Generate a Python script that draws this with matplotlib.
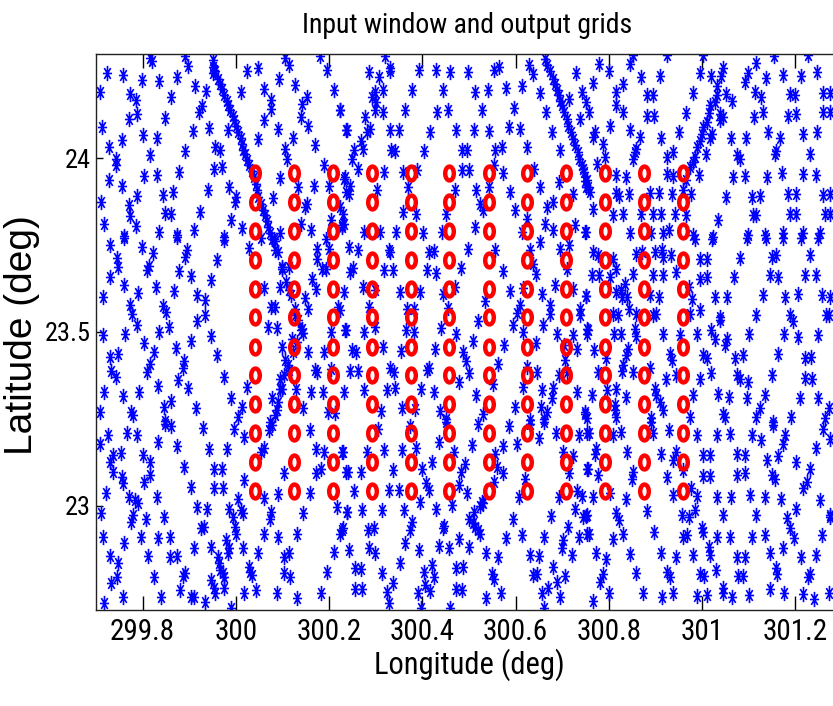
import numpy as np
import matplotlib
matplotlib.use("Agg")
import matplotlib.pyplot as plt
from matplotlib.path import Path

# ---- output grid nodes (deg) ----
grid_lon = [300.042, 300.125, 300.208, 300.292, 300.375, 300.458,
            300.542, 300.625, 300.708, 300.792, 300.875, 300.958]
grid_lat = [23.042, 23.125, 23.208, 23.292, 23.375, 23.458,
            23.542, 23.625, 23.708, 23.792, 23.875, 23.958]

# ---- input observations inside the window (lon, lat in deg) ----
obs_nw = [
    (299.723,24.245),(299.758,24.241),(299.799,24.226),(299.836,24.222),(299.874,24.233),(299.815,24.289),
    (299.820,24.279),(299.890,24.294),(299.898,24.265),(299.951,24.283),(299.954,24.253),(299.950,24.245),
    (299.708,24.190),(299.773,24.185),(299.785,24.168),(299.860,24.176),(299.913,24.209),(299.936,24.193),
    (300.010,24.190),(300.024,24.251),(300.047,24.260),(300.105,24.289),(300.115,24.267),(300.181,24.293),
    (300.195,24.254),(300.092,24.229),(300.127,24.212),(300.061,24.200),(300.075,24.168),(300.075,24.142),
    (300.153,24.176),(300.141,24.157),(300.210,24.197),(299.770,24.114),(299.788,24.128),(299.847,24.117),
    (299.922,24.133),(299.927,24.149),(300.061,24.111),(300.139,24.118),(300.155,24.092),(300.224,24.140),
    (299.713,24.090),(299.755,24.053),(299.801,24.066),(299.831,24.059),(299.908,24.077),(299.943,24.088),
    (299.983,24.080),(300.048,24.056),(300.090,24.085),(300.123,24.059),(300.236,24.080),(299.727,24.032),
    (299.816,24.008),(299.891,24.021),(299.955,24.032),(299.967,24.023),(300.105,24.027),(300.110,23.999),
    (300.170,24.037),(299.743,23.999),(299.743,23.980),(299.804,23.948),(299.831,23.951),(299.878,23.960),
    (299.953,23.968),(299.970,23.975),(300.095,23.944),(300.133,23.917),(300.188,23.980),(300.233,23.941),
    (299.727,23.938),(299.755,23.919),(299.844,23.893),(299.865,23.903),(299.788,23.890),(299.940,23.908),
    (299.985,23.917),(300.000,23.889),(299.999,23.874),(300.079,23.887),(300.153,23.869),(300.148,23.860),
    (300.168,23.919),(300.200,23.919),(300.236,23.903),(299.711,23.874),(299.770,23.865),(299.773,23.833),
    (299.848,23.843),(299.860,23.839),(299.923,23.845),(299.990,23.821),(300.140,23.812),(300.161,23.793),
    (300.204,23.821),(300.228,23.802),(299.717,23.810),(299.786,23.804),(299.761,23.776),(299.835,23.788),
    (299.874,23.780),(299.910,23.793),(299.974,23.772),(300.013,23.798),(300.095,23.785),(300.233,23.812),
]
track_nw = [
    (299.950,24.262),(299.955,24.251),(299.961,24.229),(299.967,24.214),(299.970,24.200),(299.975,24.181),
    (299.981,24.166),(299.984,24.152),(299.988,24.138),(299.993,24.123),(299.997,24.109),(300.000,24.094),
    (300.004,24.075),(300.010,24.059),(300.013,24.042),(300.016,24.025),(300.020,24.011),(300.025,23.994),
    (300.029,23.980),(300.034,23.963),(300.038,23.946),(300.043,23.927),(300.045,23.908),(300.048,23.889),
    (300.053,23.869),(300.058,23.852),(300.063,23.836),(300.067,23.820),(300.070,23.802),(300.074,23.785),
    (300.077,23.769),
]
obs_n = [
    (300.320,24.293),(300.331,24.260),(300.330,24.251),(300.285,24.248),(300.306,24.233),(300.392,24.253),
    (300.429,24.253),(300.460,24.248),(300.498,24.248),(300.554,24.254),(300.565,24.262),(300.628,24.267),
    (300.637,24.243),(300.729,24.245),(300.298,24.190),(300.315,24.197),(300.292,24.176),(300.301,24.162),
    (300.299,24.138),(300.315,24.133),(300.378,24.195),(300.444,24.195),(300.513,24.190),(300.540,24.195),
    (300.580,24.203),(300.613,24.209),(300.653,24.187),(300.715,24.171),(300.742,24.190),(300.224,24.138),
    (300.278,24.118),(300.288,24.085),(300.281,24.075),(300.238,24.080),(300.362,24.138),(300.431,24.133),
    (300.456,24.140),(300.528,24.138),(300.597,24.145),(300.665,24.133),(300.738,24.114),(300.253,24.025),
    (300.273,24.027),(300.330,24.080),(300.349,24.080),(300.417,24.075),(300.473,24.080),(300.510,24.080),
    (300.542,24.078),(300.585,24.090),(300.610,24.085),(300.624,24.032),(300.678,24.075),(300.695,24.023),
    (300.249,23.999),(300.261,23.970),(300.317,23.960),(300.333,24.025),(300.342,24.021),(300.403,24.021),
    (300.485,24.025),(300.495,24.025),(300.556,24.023),(300.570,24.032),(300.554,23.980),(300.573,23.958),
    (300.640,23.970),(300.235,23.946),(300.245,23.919),(300.242,23.898),(300.224,23.860),(300.230,23.841),
    (300.303,23.908),(300.370,23.917),(300.388,23.967),(300.358,23.960),(300.470,23.910),(300.485,23.967),
    (300.501,23.967),(300.515,23.908),(300.542,23.917),(300.524,23.869),(300.530,23.850),(300.587,23.903),
    (300.599,23.850),(300.653,23.917),(300.681,23.874),(300.667,23.860),(300.694,23.932),(300.724,23.898),
    (300.228,23.807),(300.275,23.788),(300.310,23.788),(300.344,23.788),(300.358,23.845),(300.387,23.841),
    (300.401,23.785),(300.442,23.788),(300.451,23.841),(300.513,23.802),(300.613,23.788),(300.625,23.826),
    (300.663,23.812),(300.681,23.793),(300.728,23.807),(300.749,23.788),(300.268,24.051),
]
track_n = [
    (300.663,24.286),(300.668,24.267),(300.674,24.251),(300.680,24.229),(300.685,24.214),(300.688,24.197),
    (300.692,24.181),(300.695,24.166),(300.699,24.152),(300.704,24.133),(300.710,24.114),(300.713,24.094),
    (300.718,24.075),(300.723,24.056),(300.728,24.037),(300.733,24.018),(300.737,23.999),(300.742,23.980),
    (300.747,23.960),(300.753,23.936),(300.756,23.917),
]
obs_ne = [
    (300.779,24.272),(300.801,24.251),(300.845,24.270),(300.852,24.296),(300.868,24.235),(300.909,24.238),
    (300.925,24.296),(301.002,24.296),(300.995,24.245),(301.020,24.238),(301.041,24.238),(301.045,24.260),
    (301.091,24.219),(301.099,24.245),(301.115,24.274),(301.138,24.231),(301.154,24.293),(301.174,24.241),
    (301.213,24.238),(301.227,24.296),(301.246,24.248),(300.765,24.216),(300.831,24.214),(300.816,24.190),
    (300.882,24.181),(300.895,24.181),(300.981,24.187),(301.031,24.207),(301.031,24.181),(301.051,24.185),
    (301.065,24.166),(301.113,24.190),(301.127,24.176),(301.189,24.185),(301.199,24.181),(301.259,24.187),
    (301.275,24.187),(300.751,24.162),(300.758,24.133),(300.815,24.152),(300.831,24.133),(300.881,24.123),
    (300.896,24.123),(300.966,24.130),(301.015,24.130),(301.016,24.152),(301.038,24.128),(301.045,24.118),
    (301.038,24.109),(301.111,24.118),(301.131,24.133),(301.184,24.123),(301.202,24.128),(301.259,24.133),
    (301.275,24.133),(300.770,24.075),(300.766,24.061),(300.802,24.094),(300.845,24.080),(300.866,24.061),
    (300.911,24.059),(300.951,24.075),(301.002,24.090),(300.999,24.071),(301.016,24.059),(301.022,24.071),
    (301.063,24.059),(301.095,24.059),(301.141,24.075),(301.168,24.059),(301.216,24.071),(301.246,24.075),
    (300.788,24.040),(300.791,24.005),(300.856,24.018),(300.859,24.027),(300.851,23.999),(300.924,24.003),
    (300.938,24.018),(300.988,24.032),(300.984,24.005),(301.008,24.011),(301.075,24.008),(301.081,23.999),
    (301.156,24.013),(301.159,24.021),(301.231,24.013),(300.774,23.984),(300.745,23.970),(300.816,23.951),
    (300.836,23.946),(300.924,23.956),(300.938,23.948),(300.974,23.975),(300.994,23.951),(301.066,23.946),
    (301.091,23.948),(301.139,23.946),(301.172,23.958),(301.216,23.956),(301.245,23.951),(300.749,23.935),
    (300.752,23.917),(300.759,23.903),(300.815,23.900),(300.822,23.890),(300.844,23.896),(300.888,23.900),
    (300.908,23.900),(300.936,23.896),(300.977,23.896),(301.052,23.889),(301.106,23.889),(301.124,23.890),
    (301.184,23.898),(301.202,23.898),(301.259,23.893),(301.275,23.896),(300.766,23.855),(300.809,23.836),
    (300.831,23.841),(300.870,23.841),(300.895,23.841),(300.911,23.841),(300.941,23.841),(300.966,23.836),
    (301.034,23.823),(301.109,23.836),(301.116,23.836),(301.188,23.841),(301.202,23.841),(301.263,23.841),
    (301.275,23.841),(300.752,23.788),(300.845,23.785),(300.891,23.785),(300.916,23.785),(300.929,23.793),
    (300.981,23.778),(301.024,23.774),(301.099,23.778),(301.134,23.778),(301.174,23.785),(301.216,23.785),
    (301.252,23.785),(301.027,24.162),(301.011,24.104),(300.995,24.051),(300.981,23.989),(300.966,23.936),
    (300.959,23.908),
]
obs_w = [
    (299.731,23.749),(299.761,23.770),(299.799,23.744),(299.822,23.728),(299.874,23.773),(299.895,23.735),
    (299.890,23.716),(299.974,23.764),(300.029,23.742),(300.053,23.770),(300.083,23.761),(300.083,23.735),
    (300.175,23.740),(300.200,23.740),(300.193,23.768),(299.745,23.713),(299.747,23.687),(299.730,23.658),
    (299.810,23.677),(299.813,23.690),(299.879,23.675),(299.904,23.661),(299.960,23.706),(299.947,23.649),
    (300.098,23.682),(300.115,23.687),(300.163,23.653),(300.175,23.711),(300.184,23.682),(300.193,23.682),
    (299.715,23.601),(299.760,23.634),(299.791,23.613),(299.829,23.629),(299.867,23.617),(299.917,23.606),
    (299.933,23.591),(299.933,23.548),(299.917,23.531),(299.843,23.575),(299.850,23.558),(299.774,23.577),
    (299.778,23.553),(300.060,23.627),(300.095,23.630),(300.115,23.620),(300.148,23.598),(300.155,23.567),
    (300.172,23.625),(300.220,23.572),(299.788,23.519),(299.763,23.495),(299.715,23.491),(299.836,23.500),
    (299.856,23.515),(299.904,23.473),(299.947,23.489),(299.803,23.467),(299.824,23.443),(299.872,23.454),
    (300.068,23.515),(300.075,23.572),(300.084,23.572),(300.088,23.512),(300.127,23.548),(300.141,23.510),
    (300.143,23.498),(300.120,23.479),(300.204,23.500),(300.236,23.505),(299.731,23.428),(299.748,23.438),
    (299.815,23.409),(299.888,23.416),(299.886,23.395),(299.960,23.433),(299.974,23.371),(299.733,23.387),
    (299.743,23.371),(299.810,23.385),(299.833,23.345),(299.875,23.361),(299.898,23.339),(300.100,23.457),
    (300.105,23.419),(300.095,23.364),(300.115,23.390),(300.154,23.443),(300.170,23.390),(300.175,23.385),
    (300.190,23.441),(300.204,23.393),(299.718,23.328),(299.758,23.316),(299.793,23.328),(299.860,23.301),
    (299.845,23.285),(299.915,23.282),(299.990,23.311),(300.013,23.285),(300.004,23.256),(300.025,23.342),
    (299.775,23.270),(299.779,23.261),(299.708,23.270),(299.847,23.243),(300.077,23.309),(300.088,23.275),
    (300.100,23.337),(300.129,23.335),(300.145,23.280),(300.161,23.328),(300.186,23.328),(300.197,23.270),
    (300.213,23.268),
]
track_w = [
    (300.081,23.768),(300.090,23.730),(300.098,23.687),(300.108,23.644),(300.118,23.606),(300.127,23.567),
    (300.133,23.534),(300.140,23.505),(300.131,23.471),(300.122,23.443),(300.111,23.404),(300.104,23.376),
    (300.095,23.337),(300.090,23.299),(300.083,23.261),(300.077,23.232),
]
obs_c = [
    (300.242,23.744),(300.261,23.735),(300.328,23.735),(300.330,23.730),(300.415,23.730),(300.424,23.732),
    (300.497,23.740),(300.556,23.735),(300.630,23.735),(300.653,23.759),(300.695,23.740),(300.715,23.749),
    (300.251,23.684),(300.245,23.673),(300.317,23.677),(300.337,23.677),(300.411,23.677),(300.430,23.671),
    (300.483,23.684),(300.573,23.675),(300.638,23.697),(300.644,23.668),(300.710,23.682),(300.233,23.615),
    (300.273,23.630),(300.299,23.620),(300.353,23.615),(300.395,23.615),(300.444,23.610),(300.470,23.630),
    (300.535,23.588),(300.587,23.617),(300.615,23.627),(300.656,23.610),(300.685,23.634),(300.724,23.625),
    (300.751,23.604),(300.285,23.572),(300.299,23.515),(300.367,23.567),(300.383,23.567),(300.365,23.505),
    (300.383,23.500),(300.440,23.512),(300.456,23.569),(300.473,23.495),(300.520,23.531),(300.603,23.556),
    (300.610,23.577),(300.594,23.521),(300.615,23.500),(300.658,23.521),(300.673,23.577),(300.673,23.553),
    (300.688,23.495),(300.724,23.491),(300.738,23.567),(300.738,23.548),(300.754,23.510),(300.235,23.505),
    (300.274,23.500),(300.224,23.562),(300.249,23.448),(300.258,23.441),(300.315,23.457),(300.354,23.445),
    (300.428,23.450),(300.487,23.441),(300.494,23.416),(300.508,23.473),(300.575,23.464),(300.644,23.467),
    (300.625,23.400),(300.703,23.462),(300.731,23.452),(300.244,23.387),(300.261,23.387),(300.330,23.397),
    (300.340,23.385),(300.411,23.390),(300.415,23.395),(300.501,23.383),(300.478,23.357),(300.563,23.409),
    (300.645,23.385),(300.694,23.376),(300.710,23.385),(300.706,23.419),(300.231,23.328),(300.274,23.333),
    (300.325,23.333),(300.342,23.339),(300.397,23.337),(300.425,23.328),(300.515,23.320),(300.551,23.349),
    (300.615,23.342),(300.656,23.333),(300.680,23.339),(300.678,23.309),(300.731,23.328),(300.311,23.272),
    (300.356,23.282),(300.385,23.278),(300.438,23.272),(300.451,23.249),(300.531,23.263),(300.599,23.285),
    (300.630,23.246),(300.654,23.285),(300.668,23.270),(300.660,23.251),(300.749,23.270),(300.754,23.253),
]
obs_e = [
    (300.766,23.730),(300.777,23.721),(300.809,23.711),(300.815,23.682),(300.802,23.658),(300.779,23.665),
    (300.763,23.663),(300.751,23.604),(300.834,23.639),(300.851,23.668),(300.872,23.730),(300.858,23.725),
    (300.899,23.730),(300.915,23.735),(300.916,23.716),(300.934,23.721),(300.945,23.673),(300.895,23.663),
    (300.916,23.663),(300.984,23.768),(301.022,23.768),(301.096,23.770),(301.136,23.770),(301.174,23.770),
    (301.213,23.770),(301.249,23.770),(300.995,23.711),(301.011,23.711),(301.082,23.713),(301.149,23.716),
    (301.158,23.721),(301.232,23.721),(300.995,23.653),(301.011,23.658),(301.068,23.658),(301.145,23.665),
    (301.163,23.658),(301.220,23.665),(301.244,23.663),(300.816,23.615),(300.829,23.601),(300.827,23.620),
    (300.838,23.601),(300.888,23.606),(300.908,23.601),(300.972,23.630),(300.979,23.596),(301.027,23.601),
    (301.054,23.601),(301.131,23.606),(301.177,23.601),(301.206,23.610),(301.258,23.606),(301.275,23.601),
    (300.809,23.553),(300.820,23.550),(300.844,23.567),(300.859,23.553),(300.894,23.548),(300.901,23.553),
    (300.975,23.553),(300.995,23.562),(301.038,23.543),(301.039,23.534),(301.115,23.550),(301.188,23.548),
    (301.194,23.531),(301.265,23.548),(301.272,23.548),(300.756,23.505),(300.754,23.495),(300.811,23.495),
    (300.825,23.495),(300.856,23.510),(300.859,23.489),(300.916,23.493),(300.952,23.491),(300.989,23.495),
    (301.020,23.505),(301.027,23.481),(301.054,23.481),(301.049,23.462),(301.101,23.493),(301.175,23.493),
    (301.206,23.486),(301.249,23.491),(300.768,23.448),(300.794,23.425),(300.841,23.452),(300.836,23.433),
    (300.831,23.404),(300.932,23.438),(300.936,23.419),(301.002,23.433),(301.011,23.424),(301.070,23.424),
    (301.088,23.435),(301.163,23.438),(301.220,23.424),(301.234,23.428),(300.777,23.385),(300.829,23.387),
    (300.851,23.385),(300.888,23.395),(300.922,23.364),(300.945,23.376),(300.995,23.364),(301.018,23.383),
    (301.075,23.376),(301.081,23.366),(301.099,23.357),(301.149,23.376),(301.220,23.368),(301.236,23.366),
    (300.763,23.318),(300.796,23.333),(300.816,23.337),(300.836,23.313),(300.813,23.289),(300.899,23.337),
    (300.902,23.318),(300.909,23.299),(300.916,23.275),(300.981,23.318),(301.034,23.323),(301.058,23.313),
    (301.096,23.309),(301.134,23.318),(301.209,23.309),(301.249,23.309),(300.749,23.265),(300.813,23.275),
    (300.816,23.256),(300.891,23.253),(300.974,23.256),(301.045,23.265),(301.049,23.256),(301.116,23.256),
    (301.124,23.280),(301.152,23.242),(301.191,23.256),(301.272,23.282),(301.263,23.253),
]
obs_sw = [
    (299.725,23.203),(299.767,23.210),(299.788,23.203),(299.833,23.184),(299.874,23.171),(299.929,23.225),
    (299.847,23.236),(299.860,23.229),(299.995,23.222),(300.017,23.198),(300.055,23.155),(300.060,23.165),
    (300.072,23.217),(300.074,23.241),(300.158,23.219),(300.172,23.162),(300.190,23.155),(300.229,23.155),
    (299.708,23.179),(299.736,23.145),(299.753,23.152),(299.731,23.126),(299.736,23.098),(299.755,23.083),
    (299.758,23.064),(299.800,23.145),(299.815,23.126),(299.815,23.088),(299.804,23.069),(299.888,23.112),
    (299.943,23.162),(299.981,23.162),(299.954,23.107),(299.970,23.107),(300.018,23.074),(300.103,23.095),
    (300.172,23.095),(300.183,23.107),(300.236,23.098),(299.722,23.037),(299.770,23.024),(299.784,23.016),
    (299.790,23.008),(299.831,23.026),(299.903,23.053),(299.953,23.050),(299.972,23.050),(300.004,23.018),
    (300.061,23.021),(300.090,23.035),(300.158,23.037),(300.217,22.995),(300.238,22.983),(299.710,22.978),
    (299.779,22.973),(299.775,22.954),(299.808,22.961),(299.845,22.968),(299.917,22.995),(299.938,22.992),
    (299.986,22.992),(299.993,22.968),(300.011,22.987),(300.015,22.980),(300.075,22.983),(300.074,22.963),
    (300.145,22.978),(300.229,22.935),(300.224,22.920),(299.715,22.911),(299.760,22.892),(299.797,22.911),
    (299.833,22.906),(299.858,22.911),(299.925,22.935),(299.931,22.940),(299.979,22.901),(299.998,22.940),
    (300.000,22.920),(300.060,22.920),(300.090,22.909),(300.131,22.920),(299.731,22.855),(299.747,22.834),
    (299.811,22.855),(299.858,22.853),(299.874,22.855),(299.911,22.877),(299.947,22.882),(299.986,22.877),
    (299.983,22.863),(300.015,22.877),(299.961,22.853),(299.963,22.834),(300.047,22.863),(300.029,22.825),
    (300.104,22.853),(300.115,22.863),(300.211,22.868),(299.733,22.777),(299.745,22.796),(299.825,22.796),
    (299.886,22.798),(299.891,22.807),(299.947,22.786),(299.965,22.815),(299.972,22.805),(299.975,22.796),
    (300.031,22.810),(300.034,22.801),(300.103,22.805),(300.117,22.796),(300.195,22.810),(299.758,22.738),
    (299.717,22.719),(299.840,22.738),(299.881,22.757),(299.903,22.736),(299.911,22.736),(299.934,22.724),
    (299.954,22.762),(299.955,22.748),(299.974,22.762),(299.990,22.705),(300.018,22.750),(300.043,22.757),
    (300.088,22.750),(300.131,22.734),(300.183,22.750),
]
obs_s = [
    (300.304,23.222),(300.373,23.229),(300.451,23.241),(300.520,23.234),(300.585,23.229),(300.630,23.234),
    (300.661,23.241),(300.687,23.210),(300.735,23.203),(300.754,23.210),(300.228,23.155),(300.281,23.155),
    (300.317,23.160),(300.356,23.160),(300.387,23.165),(300.435,23.184),(300.467,23.155),(300.506,23.174),
    (300.573,23.171),(300.604,23.177),(300.651,23.196),(300.701,23.155),(300.723,23.143),(300.240,23.098),
    (300.268,23.098),(300.337,23.102),(300.399,23.107),(300.420,23.126),(300.483,23.098),(300.492,23.121),
    (300.556,23.150),(300.560,23.112),(300.574,23.093),(300.620,23.078),(300.715,23.095),(300.754,23.107),
    (300.253,23.043),(300.328,23.045),(300.349,23.045),(300.408,23.064),(300.415,23.045),(300.478,23.059),
    (300.495,23.037),(300.554,23.069),(300.608,23.024),(300.694,23.026),(300.731,23.043),(300.742,23.028),
    (300.238,22.983),(300.270,22.987),(300.313,22.989),(300.360,22.989),(300.394,23.011),(300.430,22.992),
    (300.463,23.002),(300.511,22.983),(300.530,23.007),(300.594,22.963),(300.675,22.970),(300.728,22.992),
    (300.745,22.968),(300.754,22.973),(300.228,22.930),(300.283,22.930),(300.297,22.935),(300.378,22.954),
    (300.374,22.930),(300.447,22.941),(300.444,22.935),(300.499,22.961),(300.513,22.938),(300.524,22.920),
    (300.580,22.906),(300.613,22.916),(300.661,22.911),(300.713,22.938),(300.735,22.911),(300.754,22.920),
    (300.242,22.872),(300.285,22.877),(300.299,22.863),(300.363,22.892),(300.392,22.872),(300.435,22.884),
    (300.458,22.877),(300.478,22.903),(300.499,22.882),(300.537,22.865),(300.563,22.853),(300.630,22.858),
    (300.651,22.855),(300.699,22.877),(300.720,22.858),(300.701,22.901),(300.256,22.820),(300.268,22.817),
    (300.313,22.805),(300.351,22.834),(300.404,22.810),(300.425,22.796),(300.420,22.829),(300.473,22.820),
    (300.487,22.825),(300.549,22.803),(300.553,22.788),(300.637,22.801),(300.645,22.803),(300.681,22.825),
    (300.706,22.798),(300.688,22.781),(300.256,22.759),(300.270,22.759),(300.324,22.753),(300.337,22.777),
    (300.328,22.721),(300.390,22.748),(300.406,22.772),(300.417,22.756),(300.473,22.759),(300.485,22.757),
    (300.397,22.705),(300.460,22.705),(300.537,22.734),(300.568,22.750),(300.656,22.748),(300.670,22.762),
    (300.695,22.738),(300.660,22.705),(300.508,22.951),(300.520,22.930),(300.528,23.011),(300.524,22.999),
]
obs_se = [
    (300.758,23.210),(300.808,23.203),(300.825,23.212),(300.895,23.208),(300.891,23.241),(300.929,23.217),
    (300.988,23.203),(301.031,23.203),(301.059,23.206),(301.106,23.203),(301.127,23.190),(301.151,23.232),
    (301.177,23.203),(301.174,23.177),(301.259,23.222),(301.275,23.193),(300.772,23.162),(300.770,23.150),
    (300.756,23.107),(300.777,23.088),(300.838,23.155),(300.852,23.098),(300.849,23.076),(300.911,23.150),
    (300.944,23.155),(300.938,23.133),(300.925,23.083),(300.959,23.102),(301.001,23.145),(301.016,23.145),
    (301.001,23.085),(301.016,23.085),(301.075,23.150),(301.091,23.145),(301.075,23.088),(301.091,23.093),
    (301.139,23.133),(301.163,23.143),(301.149,23.088),(301.156,23.076),(301.201,23.126),(301.231,23.107),
    (301.225,23.069),(301.216,23.050),(301.245,23.165),(300.765,23.024),(300.802,23.037),(300.836,23.018),
    (300.881,22.985),(300.938,23.030),(300.977,23.050),(300.988,23.028),(301.031,23.026),(301.063,23.026),
    (301.102,23.030),(301.134,23.026),(301.170,23.018),(301.202,22.992),(301.252,23.016),(301.275,22.973),
    (300.751,22.970),(300.816,22.980),(300.822,22.959),(300.831,22.920),(300.758,22.920),(300.809,22.903),
    (300.896,22.925),(300.956,22.973),(300.972,22.968),(300.984,22.989),(300.999,22.935),(301.002,22.925),
    (300.959,22.911),(300.968,22.916),(301.032,22.911),(301.045,22.973),(301.059,22.909),(301.106,22.911),
    (301.116,22.973),(301.134,22.916),(301.182,22.966),(301.188,22.935),(301.196,22.906),(301.258,22.916),
    (301.275,22.968),(300.772,22.863),(300.794,22.846),(300.845,22.861),(300.911,22.865),(300.945,22.853),
    (300.981,22.858),(301.015,22.882),(301.016,22.858),(301.029,22.815),(301.074,22.853),(301.091,22.853),
    (301.146,22.865),(301.174,22.877),(301.213,22.853),(301.245,22.858),(300.788,22.803),(300.781,22.781),
    (300.858,22.805),(300.924,22.810),(300.932,22.796),(300.995,22.803),(301.004,22.798),(301.077,22.798),
    (301.088,22.798),(301.159,22.820),(301.161,22.803),(301.227,22.796),(301.231,22.803),(300.765,22.727),
    (300.801,22.748),(300.874,22.748),(300.915,22.738),(300.938,22.750),(300.988,22.740),(301.011,22.743),
    (301.044,22.762),(301.045,22.750),(301.065,22.738),(301.101,22.743),(301.145,22.759),(301.175,22.748),
    (301.216,22.746),(301.239,22.731),(301.273,22.748),
]

x_ticks = [299.8, 300.0, 300.2, 300.4, 300.6, 300.8, 301.0, 301.2]
x_tick_labels = ["299.8", "300", "300.2", "300.4", "300.6", "300.8", "301", "301.2"]
y_ticks = [23.0, 23.5, 24.0]
y_tick_labels = ["23", "23.5", "24"]

# ---- marker shapes ----
# asterisk: plus + cross, taller than wide
ax_v, ax_h, d_x, d_y = 1.0, 0.6, 0.42, 0.71
ast_verts = [(0, -ax_v), (0, ax_v), (-ax_h, 0), (ax_h, 0),
             (-d_x, -d_y), (d_x, d_y), (-d_x, d_y), (d_x, -d_y)]
ast_codes = [Path.MOVETO, Path.LINETO] * 4
asterisk = Path(ast_verts, ast_codes)

# ring: ellipse, taller than wide
t = np.linspace(0, 2 * np.pi, 41)
ring = Path(np.column_stack([0.62 * np.cos(t), np.sin(t)]), closed=True)

narrow = ["Liberation Sans Narrow", "Nimbus Sans Narrow", "Roboto Condensed",
          "Arial Narrow", "Liberation Sans", "DejaVu Sans"]
regular = ["Liberation Sans", "DejaVu Sans"]

fig = plt.figure(figsize=(8.33, 7.06), dpi=100)
ax = fig.add_axes([0.1152, 0.1360, 0.8956, 0.7875])

obs = obs_nw + track_nw + obs_n + track_n + obs_ne + obs_w + track_w + obs_c + obs_e + obs_sw + obs_s + obs_se
obs_lon = [p[0] for p in obs]
obs_lat = [p[1] for p in obs]
ax.plot(obs_lon, obs_lat, linestyle="none", marker=asterisk, markersize=11,
        markeredgecolor="#0000ff", markerfacecolor="none", markeredgewidth=1.2, zorder=2)

glon, glat = np.meshgrid(grid_lon, grid_lat)
ax.plot(glon.ravel(), glat.ravel(), linestyle="none", marker=ring, markersize=10,
        markeredgecolor="#ff0000", markerfacecolor="none", markeredgewidth=3.2, zorder=3)

ax.set_xlim(299.7, 301.3)
ax.set_ylim(22.7, 24.3)
ax.set_xticks(x_ticks)
ax.set_xticklabels(x_tick_labels, fontfamily=narrow, fontsize=21)
ax.set_yticks(y_ticks)
ax.set_yticklabels(y_tick_labels, fontfamily=narrow, fontsize=19)
ax.tick_params(axis="x", direction="in", length=10, width=1, top=True, bottom=True, pad=6)
ax.tick_params(axis="y", direction="in", length=5, width=1, left=True, right=True, pad=4)
for s in ax.spines.values():
    s.set_linewidth(1.0)
    s.set_color("#222222")

ax.set_xlabel("Longitude (deg)", fontfamily=narrow, fontsize=22)
ax.xaxis.label.set_va("center")
ax.xaxis.set_label_coords(0.5, -0.099)
ax.set_ylabel("Latitude (deg)", fontfamily=regular, fontsize=28)
ax.yaxis.label.set_va("center")
ax.yaxis.set_label_coords(-0.099, 0.495)

fig.text(0.561, 0.964, "Input window and output grids", ha="center", va="center",
         fontfamily=narrow, fontsize=20)

fig.savefig("out.png", dpi=100)
